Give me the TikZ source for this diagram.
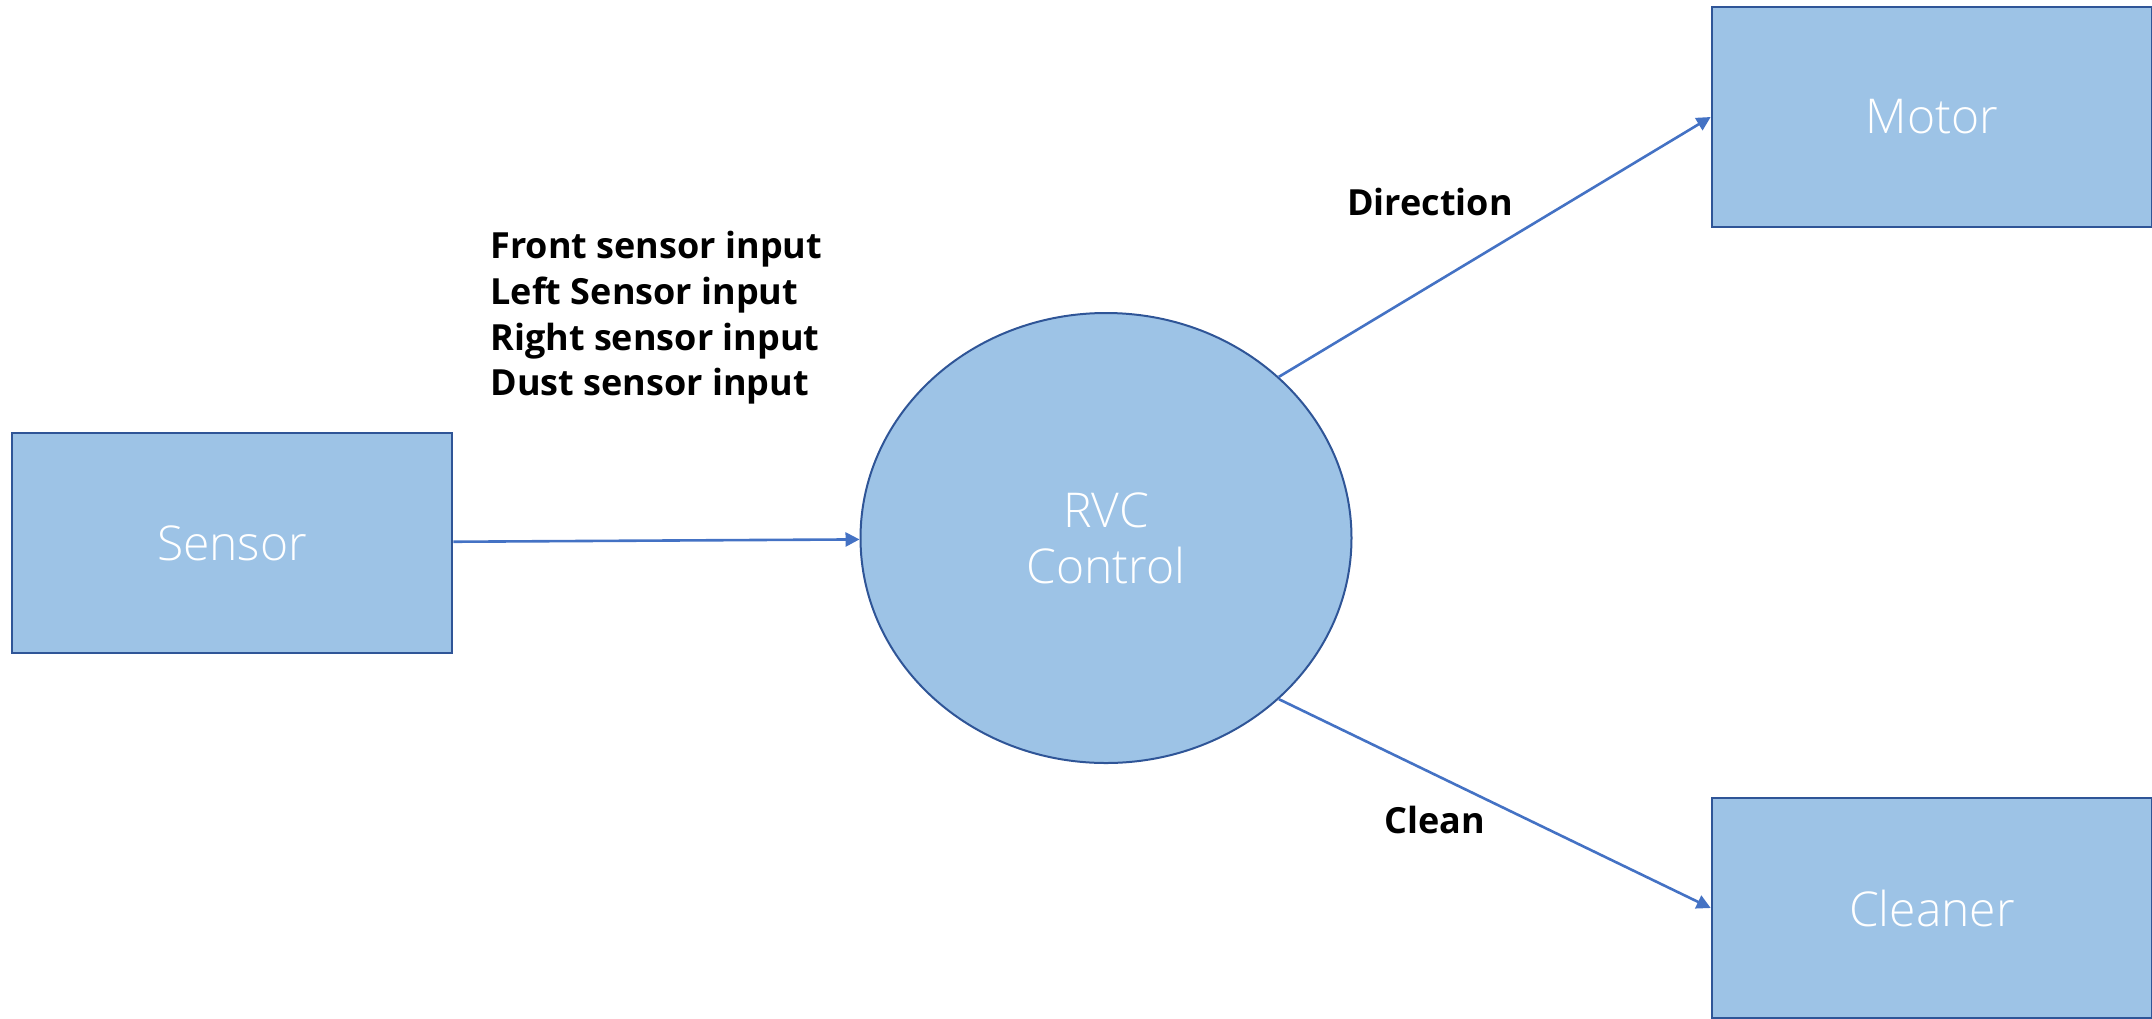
\documentclass[tikz,border=0pt]{standalone}
\usepackage{fontspec}
\setmainfont{Open Sans}
\newfontfamily\boxfont{Open Sans Light}
\usetikzlibrary{shapes.geometric,arrows.meta}
\definecolor{boxfill}{HTML}{9DC3E6}
\definecolor{boxline}{HTML}{2F5597}
\definecolor{arrcol}{HTML}{4472C4}
\tikzset{
  blockbox/.style={draw=boxline, line width=1.3pt, fill=boxfill, minimum width=220pt, minimum height=110pt, inner sep=0pt, text=white, font=\boxfont\fontsize{24}{30}\selectfont},
  procell/.style={ellipse, draw=boxline, line width=1pt, fill=boxfill, minimum width=245.5pt, minimum height=225pt, inner sep=0pt, text=white, align=center, font=\boxfont\fontsize{24}{28}\selectfont},
  arr/.style={draw=arrcol, line width=1.3pt, -{Triangle[length=7pt,width=7pt]}},
  flowlabel/.style={font=\bfseries\fontsize{18}{22.8}\selectfont, text=black, inner sep=0pt}
}
\begin{document}
\begin{tikzpicture}[x=0.5pt,y=-0.5pt]
\useasboundingbox (0,0) rectangle (2152,1018);
\node[blockbox] (sensor) at (232,543) {Sensor};
\node[procell] (rvc) at (1106,538) {RVC\\Control};
\node[blockbox] (motor) at (1932,117) {Motor};
\node[blockbox] (cleaner) at (1932,908) {Cleaner};
\draw[arr] (sensor) -- (rvc);
\draw[arr] (rvc.43) -- (motor.west);
\draw[arr] (rvc.-43) -- (cleaner.west);
\node[flowlabel, anchor=west, align=left] (inputs) at (490,318) {Front sensor input\\Left Sensor input\\Right sensor input\\Dust sensor input};
\node[flowlabel] (dirlbl) at (1430,202) {Direction};
\node[flowlabel] (cleanlbl) at (1435,820) {Clean};
\end{tikzpicture}
\end{document}
